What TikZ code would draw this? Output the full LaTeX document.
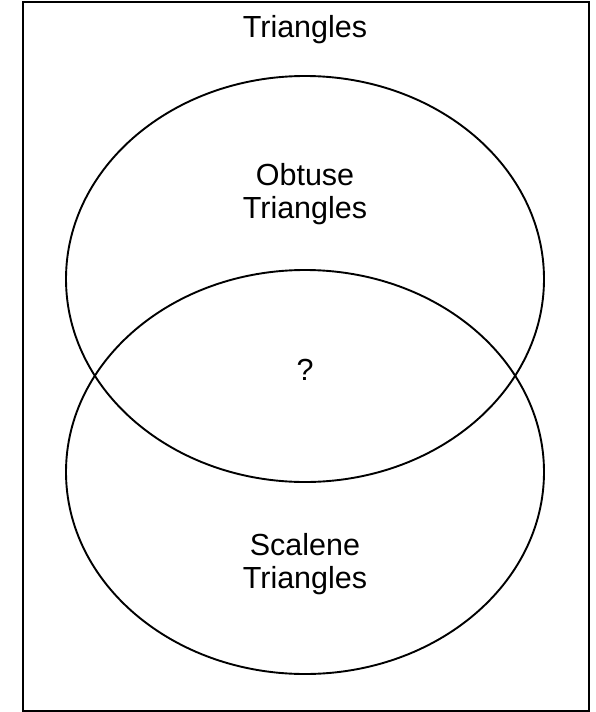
\documentclass[tikz,border=0pt]{standalone}
\usepackage{fontspec}
\setmainfont{Liberation Sans}
\tikzset{
  lbl/.style={align=center, inner sep=0pt, font=\fontsize{30.5}{33}\selectfont},
  setline/.style={draw=black, line width=1.9pt},
  frame/.style={draw=black, line width=2.4pt}
}
\begin{document}
\begin{tikzpicture}[x=1pt, y=-1pt]
\useasboundingbox (0,0) rectangle (596,712);
\draw[frame] (23,2) rectangle (589,711);
\draw[setline] (305,279) ellipse [x radius=239, y radius=203];
\draw[setline] (305,472) ellipse [x radius=239, y radius=202];
\node[lbl] (univ) at (305,30) {Triangles};
\node[lbl] (obtuse) at (305,194) {Obtuse\\Triangles};
\node[lbl] (q) at (305,370) {?};
\node[lbl] (scalene) at (305,564) {Scalene\\Triangles};
\end{tikzpicture}
\end{document}
